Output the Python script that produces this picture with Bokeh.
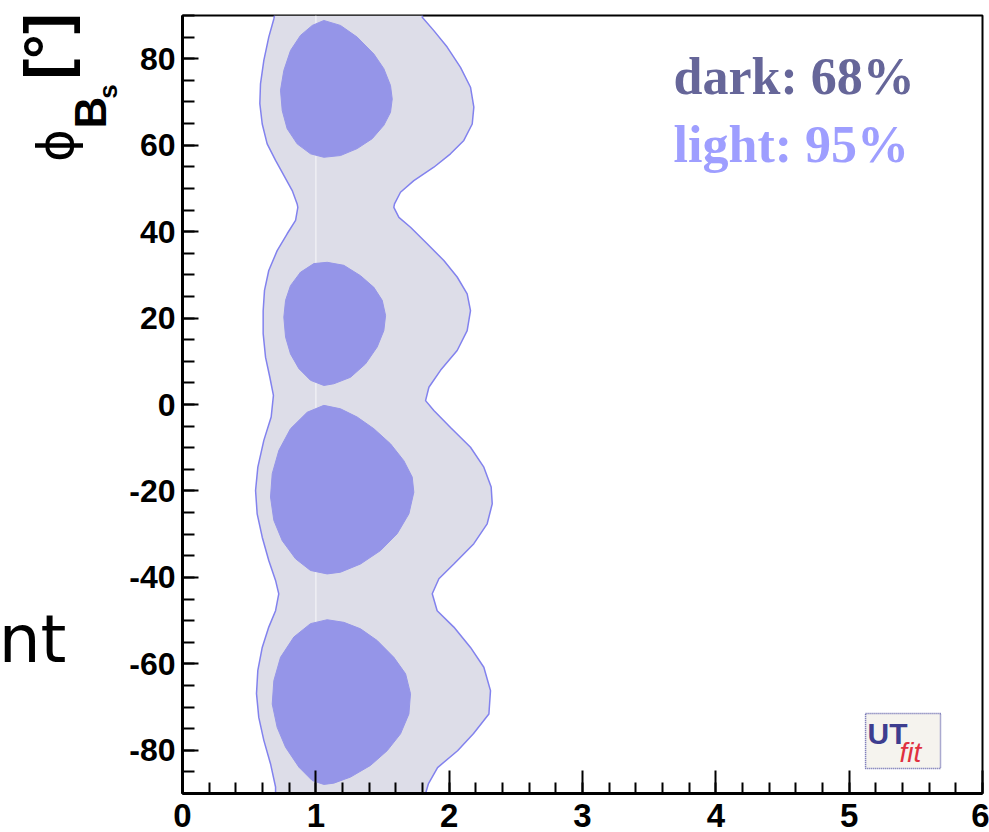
from math import pi
from bokeh.plotting import figure
from bokeh.layouts import row
from bokeh.models import Range1d, SingleIntervalTicker, PrintfTickFormatter
from bokeh.core.properties import value
from bokeh.embed import file_html
from bokeh.resources import INLINE

# ---------------- data ----------------
# 95% region: left and right boundaries (top -> bottom)
left_x = [0.690, 0.685, 0.647, 0.610, 0.585, 0.580, 0.598, 0.635, 0.698, 0.760, 0.823, 0.860,
          0.865, 0.848, 0.785, 0.710, 0.647, 0.615, 0.605, 0.605, 0.623, 0.655, 0.682, 0.665,
          0.610, 0.565, 0.548, 0.560, 0.598, 0.647, 0.698, 0.722, 0.698, 0.647, 0.598, 0.565,
          0.555, 0.572, 0.610, 0.660, 0.698, 0.698]
left_y = [90.0, 89.2, 85.0, 79.6, 74.2, 69.6, 64.9, 60.3, 56.5, 53.0, 49.5, 46.4,
          45.6, 42.6, 39.5, 35.6, 31.0, 26.4, 21.7, 16.4, 10.9, 6.3, 2.1, -2.9,
          -8.3, -14.5, -19.9, -25.3, -30.7, -36.1, -40.7, -43.8, -47.7, -51.5, -56.2, -61.5,
          -66.9, -72.4, -77.7, -83.1, -88.5, -90.0]
right_x = [1.800, 1.798, 1.885, 1.985, 2.085, 2.160, 2.185, 2.173, 2.110, 2.010, 1.885, 1.735,
           1.635, 1.590, 1.585, 1.623, 1.710, 1.835, 1.960, 2.060, 2.135, 2.160, 2.135, 2.060,
           1.935, 1.848, 1.823, 1.885, 2.010, 2.160, 2.260, 2.315, 2.323, 2.285, 2.185, 2.035,
           1.923, 1.873, 1.910, 2.035, 2.160, 2.260, 2.310, 2.298, 2.183, 2.063, 1.913, 1.845,
           1.823]
right_y = [90.0, 89.6, 86.5, 82.7, 78.0, 73.4, 68.8, 64.9, 61.1, 58.0, 54.9, 51.8,
           49.1, 46.4, 45.6, 43.3, 41.0, 37.2, 33.3, 29.5, 25.6, 21.7, 17.1, 12.5,
           7.9, 4.0, 0.9, -1.4, -5.3, -9.9, -14.5, -19.1, -23.0, -27.6, -32.2, -36.9,
           -40.3, -43.8, -47.7, -51.5, -56.2, -60.8, -66.2, -71.6, -76.1, -80.1, -84.0, -87.7,
           -90.0]

# 68% regions (four islands)
blob1_x = [1.060, 1.185, 1.310, 1.435, 1.510, 1.560, 1.573, 1.560, 1.510, 1.423, 1.310, 1.185,
           1.060, 0.960, 0.860, 0.785, 0.748, 0.735, 0.760, 0.810, 0.885, 0.973]
blob1_y = [88.85, 87.7, 85.0, 81.1, 77.7, 73.8, 70.7, 67.6, 64.6, 61.5, 59.2, 57.6,
           57.2, 58.0, 60.3, 63.8, 68.0, 72.7, 77.3, 81.9, 85.4, 87.7]
blob2_x = [1.085, 1.210, 1.335, 1.435, 1.498, 1.523, 1.510, 1.460, 1.373, 1.260, 1.135, 1.060,
           0.960, 0.873, 0.810, 0.773, 0.760, 0.773, 0.810, 0.885, 0.985]
blob2_y = [32.9, 32.2, 29.8, 27.1, 24.1, 20.6, 17.1, 13.3, 9.4, 6.3, 4.8, 4.4,
           5.6, 8.3, 11.7, 15.6, 20.2, 24.1, 27.5, 30.6, 32.6]
blob3_x = [1.060, 1.185, 1.310, 1.435, 1.560, 1.660, 1.723, 1.735, 1.698, 1.610, 1.485, 1.335,
           1.185, 1.085, 0.960, 0.848, 0.748, 0.685, 0.660, 0.673, 0.723, 0.810, 0.935]
blob3_y = [-0.2, -1.0, -2.9, -5.6, -9.1, -13.0, -16.8, -20.3, -25.3, -29.9, -33.8, -36.9,
           -38.8, -39.2, -38.4, -35.7, -31.5, -26.8, -21.4, -16.0, -10.6, -5.6, -1.8]
blob4_x = [1.085, 1.210, 1.335, 1.460, 1.585, 1.673, 1.710, 1.698, 1.635, 1.535, 1.410, 1.260,
           1.135, 1.060, 0.973, 0.873, 0.773, 0.710, 0.673, 0.685, 0.735, 0.835, 0.960]
blob4_y = [-49.8, -50.4, -51.9, -54.6, -58.5, -62.3, -66.9, -71.6, -76.2, -80.1, -83.5, -86.2,
           -87.6, -87.9, -87.0, -83.9, -79.3, -74.7, -69.3, -63.9, -58.5, -53.8, -50.7]

# faint seam inside the 95% region
seam_x = [1.0, 1.0]
seam_y = [-90.0, 90.0]

legend_texts = ["dark: 68%", "light: 95%"]

# ---------------- styles ----------------
LIGHT_FILL = "#dddde8"
EDGE = "#8282ee"
DARK_FILL = "#9595e8"

H = 832
TOP, BOTTOM = 15, 39          # frame borders shared by both panels (frames get aligned in a row)
W_LEFT = 126

# ---------- left strip: axis title and slide text fragment (page-pixel coordinates) ----------
side = figure(width=W_LEFT, height=H, x_range=Range1d(0, W_LEFT),
              y_range=Range1d(BOTTOM, H - TOP),   # data y = H - page_y
              output_backend="svg", toolbar_location=None, x_axis_type=None, y_axis_type=None,
              min_border_left=0, min_border_right=0, min_border_top=TOP,
              min_border_bottom=BOTTOM)
side.outline_line_color = None
side.grid.visible = False
side.background_fill_color = "white"
side.border_fill_color = "white"

side.text(x=[45], y=[H - 46], text=["[°]"], angle=pi / 2, text_align="center",
          text_baseline="middle", text_font=value("Liberation Sans"), text_font_style="bold",
          text_font_size="62px", text_color="black")
side.text(x=[55], y=[H - 145], text=["ϕ"], angle=pi / 2, text_align="center",
          text_baseline="middle", text_font=value("DejaVu Sans"),
          text_font_size="50px", text_color="black")
side.text(x=[90], y=[H - 112], text=["B"], angle=pi / 2, text_align="center",
          text_baseline="middle", text_font=value("Liberation Sans"), text_font_style="bold",
          text_font_size="44px", text_color="black")
side.text(x=[107], y=[H - 91], text=["s"], angle=pi / 2, text_align="center",
          text_baseline="middle", text_font=value("Liberation Sans"), text_font_style="bold",
          text_font_size="26px", text_color="black")
side.text(x=[66], y=[H - 639], text=["nt"], text_align="right", text_baseline="middle",
          text_font=value("DejaVu Sans"), text_font_size="66px", text_color="black")

# ---------------- main plot ----------------
p = figure(width=989 - W_LEFT, height=H, x_range=Range1d(0, 6), y_range=Range1d(-90, 90),
           output_backend="svg", toolbar_location=None,
           min_border_left=182 - W_LEFT, min_border_right=7, min_border_top=TOP,
           min_border_bottom=BOTTOM)
p.background_fill_color = "white"
p.border_fill_color = "white"
p.grid.visible = False
p.outline_line_color = "black"
p.outline_line_width = 2

p.xaxis.ticker = SingleIntervalTicker(interval=1, num_minor_ticks=5)
p.yaxis.ticker = SingleIntervalTicker(interval=20, num_minor_ticks=4)
for ax in (p.xaxis, p.yaxis):
    ax.formatter = PrintfTickFormatter(format="%d")
    ax.axis_line_width = 3
    ax.axis_line_color = "black"
    ax.major_tick_out = 0
    ax.minor_tick_out = 0
    ax.major_tick_line_width = 2
    ax.minor_tick_line_width = 2
    ax.major_tick_line_color = "black"
    ax.minor_tick_line_color = "black"
    ax.major_label_text_font = "Liberation Sans"
    ax.major_label_text_font_style = "bold"
    ax.major_label_text_color = "black"
p.xaxis.major_tick_in = 23
p.xaxis.minor_tick_in = 11
p.xaxis.major_label_text_font_size = "33px"
p.xaxis.major_label_standoff = 10
p.yaxis.major_tick_in = 16
p.yaxis.minor_tick_in = 12
p.yaxis.major_label_text_font_size = "32px"
p.yaxis.major_label_standoff = 7

# 95% region
p.patch(left_x + right_x[::-1], left_y + right_y[::-1], fill_color=LIGHT_FILL, line_color=None)
p.line(seam_x, seam_y, line_color="#efeff5", line_width=1.5)
p.line(left_x, left_y, line_color=EDGE, line_width=1.5)
p.line(right_x, right_y, line_color=EDGE, line_width=1.5)

# 68% regions
p.patches([blob1_x, blob2_x, blob3_x, blob4_x], [blob1_y, blob2_y, blob3_y, blob4_y],
          fill_color=DARK_FILL, line_color=DARK_FILL, line_width=1)

# legend texts (anchored at the middle of the text line)
p.text(x=[3.683], y=[75.9], text=[legend_texts[0]], text_font=value("Liberation Serif"),
       text_font_style="bold", text_font_size="52px", text_color="#666699",
       text_baseline="middle", text_align="left")
p.text(x=[3.683], y=[60.2], text=[legend_texts[1]], text_font=value("Liberation Serif"),
       text_font_style="bold", text_font_size="52px", text_color="#9e9eff",
       text_baseline="middle", text_align="left")

# UTfit logo
p.quad(left=[5.123], right=[5.685], top=[-71.5], bottom=[-84.2], fill_color="#f5f3ee",
       line_color="#5a5aa8", line_width=1.5, line_dash="1 1")
p.text(x=[5.138], y=[-76.1], text=["UT"], text_font=value("Liberation Sans"),
       text_font_style="bold", text_font_size="30px", text_color="#3d3d8f",
       text_baseline="middle")
p.text(x=[5.378], y=[-80.5], text=["fit"], text_font=value("Liberation Sans"),
       text_font_style="italic", text_font_size="28px", text_color="#e03040",
       text_baseline="middle")

layout = row(side, p, spacing=0)
open("out.html", "w").write(file_html(layout, INLINE))
